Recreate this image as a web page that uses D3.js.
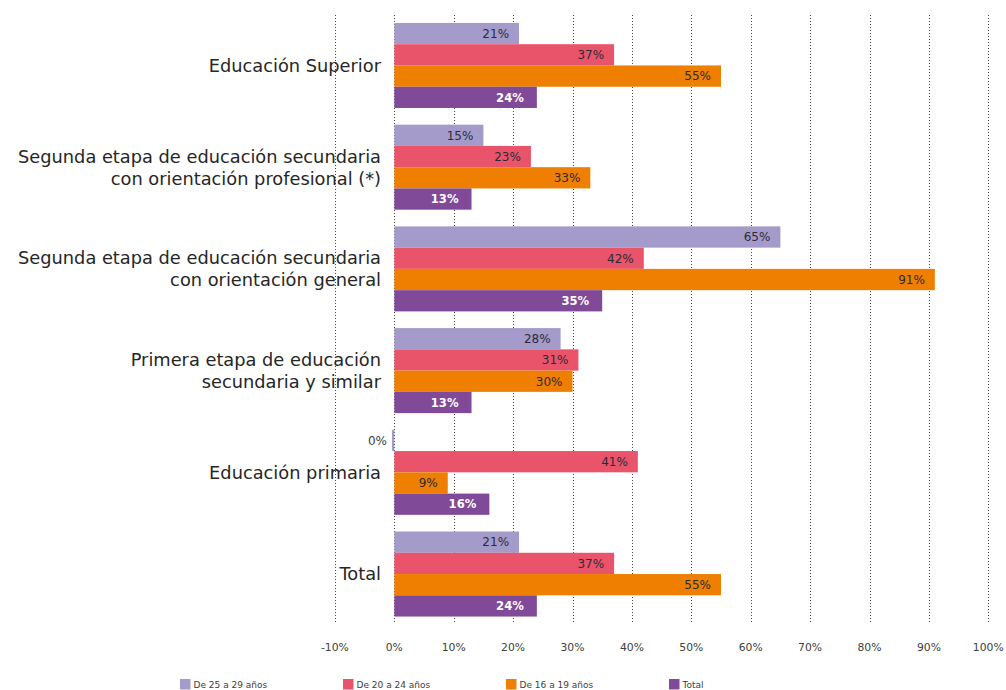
<!DOCTYPE html>
<html>
<head>
<meta charset="utf-8">
<script src="https://cdn.jsdelivr.net/npm/d3@7"></script>
<style>
  html, body { margin: 0; padding: 0; background: #fff; }
  svg { display: block; }
  text { font-family: "DejaVu Sans", sans-serif; }
</style>
</head>
<body>
<svg id="chart" width="1006" height="690"></svg>
<script>
// Education levels (top to bottom), each label split into lines
const categories = [
  ["Educación Superior"],
  ["Segunda etapa de educación secundaria", "con orientación profesional (*)"],
  ["Segunda etapa de educación secundaria", "con orientación general"],
  ["Primera etapa de educación", "secundaria y similar"],
  ["Educación primaria"],
  ["Total"]
];

// Series names (legend order = bar order within each group)
const seriesNames = ["De 25 a 29 años", "De 20 a 24 años", "De 16 a 19 años", "Total"];

// Values in percent, one array per series, in category order
const age25to29 = [21, 15, 65, 28, -0.4, 21];
const age20to24 = [37, 23, 42, 31, 41, 37];
const age16to19 = [55, 33, 91, 30, 9, 55];
const totalAll  = [24, 13, 35, 13, 16, 24];

// Axis ticks (percent)
const xTicks = [-10, 0, 10, 20, 30, 40, 50, 60, 70, 80, 90, 100];

const colors = ["#a59bcb", "#e9546b", "#ef7f00", "#814a98"];
const series = [age25to29, age20to24, age16to19, totalAll];

const svg = d3.select("#chart");

const x = d3.scaleLinear().domain([-10, 100]).range([334.9, 988.3]);

const catIdx = d3.range(categories.length);
const y = d3.scaleBand()
  .domain(catIdx)
  .range([14.6, 624.9])
  .paddingInner(0.164)
  .paddingOuter(0.082);

const ySub = d3.scaleBand()
  .domain(d3.range(series.length))
  .range([0, y.bandwidth()]);

// Dotted vertical gridlines
svg.append("g")
  .selectAll("line")
  .data(xTicks)
  .join("line")
  .attr("x1", d => Math.round(x(d)) + 0.5)
  .attr("x2", d => Math.round(x(d)) + 0.5)
  .attr("y1", 15)
  .attr("y2", 622)
  .attr("stroke", "#444")
  .attr("stroke-width", 1)
  .attr("stroke-dasharray", "1,2");

// Bars
const groups = svg.append("g")
  .selectAll("g")
  .data(catIdx)
  .join("g")
  .attr("transform", i => `translate(0,${y(i)})`);

const fmt = v => {
  const r = Math.round(v);
  return (r === 0 ? 0 : r) + "%";
};

groups.each(function(ci) {
  const g = d3.select(this);
  series.forEach((s, si) => {
    const v = s[ci];
    g.append("rect")
      .attr("x", x(Math.min(0, v)))
      .attr("y", ySub(si))
      .attr("width", Math.abs(x(v) - x(0)))
      .attr("height", ySub.bandwidth())
      .attr("fill", colors[si]);

    const isTotal = si === 3;
    const neg = v < 0;
    g.append("text")
      .attr("x", neg ? x(v) - 5 : x(v) - (isTotal ? 13 : 10))
      .attr("y", ySub(si) + ySub.bandwidth() / 2)
      .attr("dy", "0.36em")
      .attr("text-anchor", "end")
      .attr("font-size", isTotal ? 11.6 : 12)
      .attr("font-weight", isTotal ? "bold" : "normal")
      .attr("fill", isTotal ? "#ffffff" : (neg ? "#404040" : "#2b2b36"))
      .text(fmt(v));
  });
});

// Category labels (right aligned, multi-line, centred on the group)
const catLabels = svg.append("g")
  .selectAll("text")
  .data(catIdx)
  .join("text")
  .attr("text-anchor", "end")
  .attr("font-size", 17.8)
  .attr("fill", "#262626");

catLabels.each(function(ci) {
  const lines = categories[ci];
  const lh = 22;
  const cy = y(ci) + y.bandwidth() / 2;
  const t = d3.select(this);
  lines.forEach((ln, li) => {
    t.append("tspan")
      .attr("x", 381)
      .attr("y", cy + (li - (lines.length - 1) / 2) * lh)
      .attr("dy", "0.36em")
      .text(ln);
  });
});

// X axis tick labels
svg.append("g")
  .selectAll("text")
  .data(xTicks)
  .join("text")
  .attr("x", d => x(d))
  .attr("y", 647)
  .attr("dy", "0.36em")
  .attr("text-anchor", "middle")
  .attr("font-size", 10.8)
  .attr("fill", "#404040")
  .text(d => d + "%");

// Legend
const legendX = d3.scalePoint().domain(d3.range(seriesNames.length)).range([180, 669]);
const legend = svg.append("g")
  .selectAll("g")
  .data(seriesNames)
  .join("g")
  .attr("transform", (d, i) => `translate(${legendX(i)},679)`);

legend.append("rect")
  .attr("width", 10.5)
  .attr("height", 10.5)
  .attr("fill", (d, i) => colors[i]);

legend.append("text")
  .attr("x", 13.5)
  .attr("y", 5.5)
  .attr("dy", "0.36em")
  .attr("font-size", 9)
  .attr("fill", "#404040")
  .text(d => d);
</script>
</body>
</html>
